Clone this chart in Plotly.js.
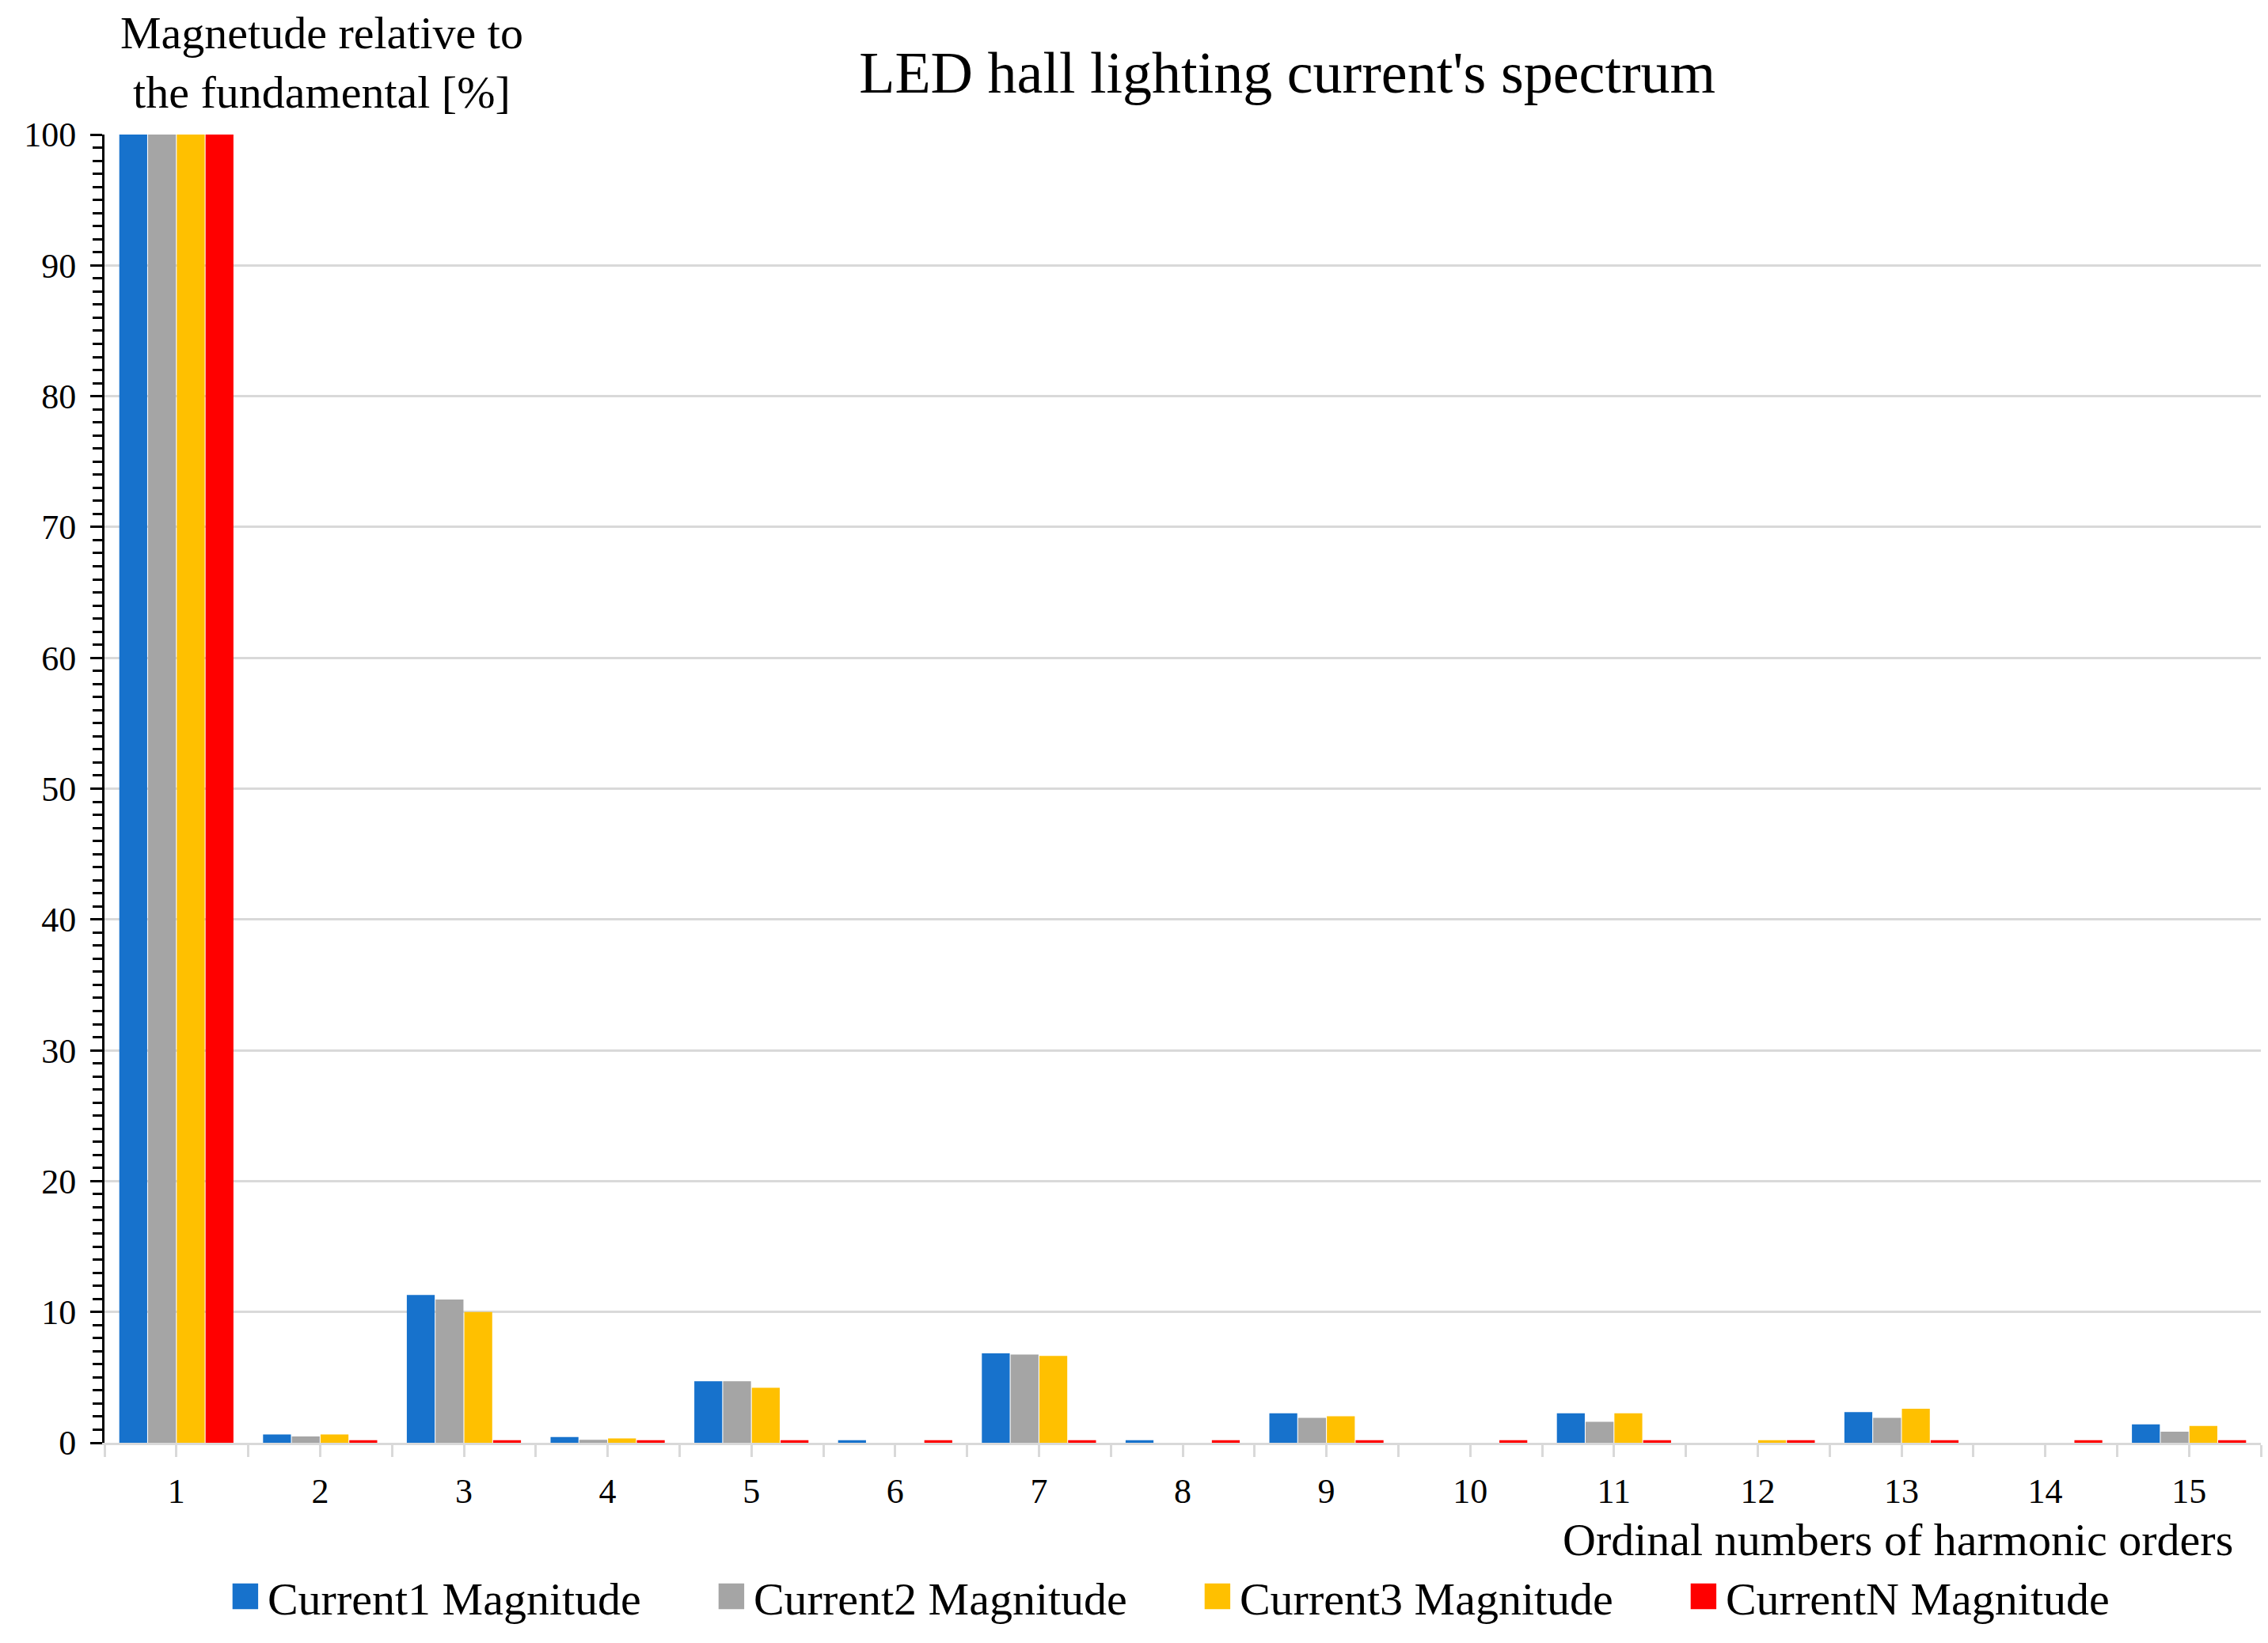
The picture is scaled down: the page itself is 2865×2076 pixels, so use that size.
<!DOCTYPE html>
<html>
<head>
<meta charset="utf-8">
<script src="https://cdn.plot.ly/plotly-3.0.1.min.js"></script>
<style>html,body{margin:0;padding:0;background:#fff;}#chart{width:2865px;height:2076px;}</style>
</head>
<body>
<div id="chart"></div>
<script>
const harmonics = [1,2,3,4,5,6,7,8,9,10,11,12,13,14,15];
const tickLabels = ["1","2","3","4","5","6","7","8","9","10","11","12","13","14","15"];
const current1 = [100, 0.64, 11.3, 0.44, 4.7, 0.2, 6.84, 0.2, 2.25, 0, 2.25, 0, 2.35, 0, 1.41];
const current2 = [100, 0.48, 10.95, 0.22, 4.7, 0, 6.74, 0, 1.91, 0, 1.6, 0, 1.91, 0, 0.85];
const current3 = [100, 0.64, 10.0, 0.34, 4.2, 0, 6.64, 0, 2.03, 0, 2.25, 0.2, 2.6, 0, 1.29];
const currentN = [100, 0.2, 0.2, 0.2, 0.2, 0.2, 0.2, 0.2, 0.2, 0.2, 0.2, 0.2, 0.2, 0.2, 0.2];
const seriesNames = ["Current1 Magnitude","Current2 Magnitude","Current3 Magnitude","CurrentN Magnitude"];
const seriesColors = ["#1772CC","#A5A5A5","#FFC000","#FF0000"];
const seriesValues = [current1, current2, current3, currentN];

const FONT = "Liberation Serif, Times New Roman, serif";

const traces = seriesValues.map((vals, i) => ({
  type: 'bar',
  x: harmonics,
  y: vals,
  name: seriesNames[i],
  marker: {color: seriesColors[i], line: {width: 0}},
  hoverinfo: 'x+y+name'
}));

const layout = {
  width: 2865,
  height: 2076,
  paper_bgcolor: '#ffffff',
  plot_bgcolor: '#ffffff',
  margin: {l: 132, r: 9, t: 170, b: 253, pad: 0},
  font: {family: FONT, color: '#000000', size: 44},
  barmode: 'group',
  bargap: 0.2,
  bargroupgap: 0.03,
  title: {
    text: "LED hall lighting current's spectrum",
    font: {family: FONT, size: 74, color: '#000'},
    xref: 'container', yref: 'container',
    x: 0.5676, xanchor: 'center',
    y: 0.956, yanchor: 'middle'
  },
  xaxis: {
    type: 'linear',
    range: [0.5, 15.5],
    tickmode: 'array',
    tickvals: harmonics,
    ticktext: tickLabels,
    ticks: 'outside',
    ticklen: 15,
    tickwidth: 3,
    tickcolor: '#D9D9D9',
    ticklabelstandoff: 5,
    tickfont: {family: FONT, size: 44, color: '#000'},
    showgrid: false,
    zeroline: false,
    showline: true,
    linecolor: '#D9D9D9',
    linewidth: 3,
    minor: {tickmode: 'linear', tick0: 0.5, dtick: 1, ticks: 'outside', ticklen: 15, tickwidth: 3, tickcolor: '#D9D9D9', showgrid: false},
    fixedrange: true
  },
  yaxis: {
    range: [0, 100],
    tickmode: 'linear',
    tick0: 0,
    dtick: 10,
    ticks: 'outside',
    ticklen: 15,
    tickwidth: 3,
    tickcolor: '#000',
    ticklabelstandoff: 9,
    tickfont: {family: FONT, size: 44, color: '#000'},
    showgrid: true,
    gridcolor: '#D9D9D9',
    gridwidth: 3,
    zeroline: false,
    showline: true,
    linecolor: '#000',
    linewidth: 3,
    minor: {tickmode: 'linear', tick0: 0, dtick: 1, ticks: 'outside', ticklen: 12, tickwidth: 3, tickcolor: '#000', showgrid: false},
    fixedrange: true
  },
  legend: {
    orientation: 'h',
    x: 0.0565, xanchor: 'left',
    y: -0.12, yanchor: 'middle',
    font: {family: FONT, size: 58, color: '#000'},
    entrywidth: 569,
    entrywidthmode: 'pixels',
    traceorder: 'normal',
    bgcolor: 'rgba(0,0,0,0)'
  },
  annotations: [
    {
      text: 'Magnetude relative to<br>the fundamental [%]',
      xref: 'paper', yref: 'paper',
      x: 0.1006, y: 1.055,
      xanchor: 'center', yanchor: 'middle',
      showarrow: false,
      align: 'center',
      font: {family: FONT, size: 58, color: '#000'}
    },
    {
      text: 'Ordinal numbers of harmonic orders',
      xref: 'paper', yref: 'paper',
      x: 0.988, y: -0.0744,
      xanchor: 'right', yanchor: 'middle',
      showarrow: false,
      font: {family: FONT, size: 58, color: '#000'}
    }
  ]
};

Plotly.newPlot('chart', traces, layout, {displayModeBar: false, staticPlot: true}).then(function(gd){
  // enlarge legend swatches to match the reference's square keys, and push the text right
  gd.querySelectorAll('.legend .legendpoints path').forEach(function(p){
    const t = p.getAttribute('transform') || '';
    p.setAttribute('transform', t + ' translate(4,0) scale(2.7)');
  });
  gd.querySelectorAll('.legend text.legendtext').forEach(function(t){
    const x = parseFloat(t.getAttribute('x') || '40');
    t.setAttribute('x', x + 12);
  });
  // nudge legend slightly upward to match the reference
  const lg = gd.querySelector('g.legend');
  if (lg) {
    const t = lg.getAttribute('transform') || '';
    lg.setAttribute('transform', t + ' translate(0,-4)');
  }
});
</script>
</body>
</html>
